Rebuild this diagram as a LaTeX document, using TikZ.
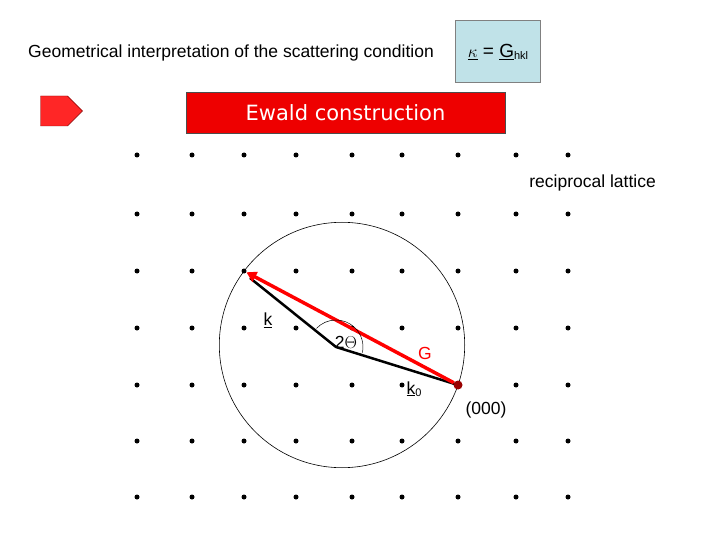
\documentclass[tikz,border=0pt]{standalone}
\usepackage{fontspec}
\setmainfont{Liberation Sans}
\newfontfamily\dvs{DejaVu Sans}
\usetikzlibrary{arrows.meta,shapes.arrows,calc}
\definecolor{boxred}{HTML}{EE0000}
\definecolor{lblue}{HTML}{C0E2E8}
\tikzset{dot/.style={circle,fill=black,inner sep=0pt,minimum size=5pt},
lbl/.style={inner sep=1pt,font=\fontsize{17.5pt}{20pt}\selectfont}}
\begin{document}
\begin{tikzpicture}[x=1pt,y=-1pt]
\useasboundingbox (0,0) rectangle (720,540);
\node[lbl,anchor=west] (title) at (27,53) {Geometrical interpretation of the scattering condition};
\node[draw=gray,fill=lblue,minimum width=85pt,minimum height=62pt] (f) at (498,51) {};
\node[font=\fontsize{19pt}{21pt}\selectfont] (ft) at (498,52) {$\underline{\kappa}$ = \underline{G}\raisebox{-2pt}{\fontsize{11pt}{12pt}\selectfont hkl}};
\node[single arrow,draw=red!50!black,fill=red!85!white,minimum height=42pt,minimum width=30pt,single arrow head extend=0pt,inner sep=0pt] (ar) at (54,111) {};
\node[draw=black!70,fill=boxred,minimum width=319pt,minimum height=41pt,text=white,font=\dvs\fontsize{21pt}{24pt}\selectfont] (ew) at (345.5,112.5) {Ewald construction};
\foreach \x [count=\i] in {137,192,244,296,352,402,458,516,568}
 \foreach \y [count=\j] in {155,214,271,328,385,441,497}
  \node[dot] (p\i\j) at (\x,\y) {};
\node[lbl,anchor=east] (rl) at (657,183) {reciprocal lattice};
\coordinate (c) at (342,345);
\draw[line width=0.6pt] (c) circle (122.7);
\coordinate (v) at (336,347);
\draw[line width=2.5pt,line join=round] (p75) -- (v) -- ($(p33)+(6,7)$);
\node[circle,fill=red!60!black,inner sep=0pt,minimum size=9pt] (o) at (p75) {};
\draw[red,line width=3.5pt,-{Triangle[length=10pt,width=11pt]}] (o) -- (p33);
\draw[line width=0.5pt] ($(v)+(223.5:27)$) arc[start angle=223.5,end angle=372,radius=27];
\node[lbl] (th) at (346,342) {2$\Theta$};
\node[lbl] (k) at (268,320) {\underline{k}};
\node[lbl,red] (G) at (425,353) {G};
\node[lbl] (k0) at (414,389) {\underline{k}\raisebox{-2pt}{\fontsize{11pt}{12pt}\selectfont 0}};
\node[lbl] (o0) at (486,410) {(000)};
\end{tikzpicture}
\end{document}
